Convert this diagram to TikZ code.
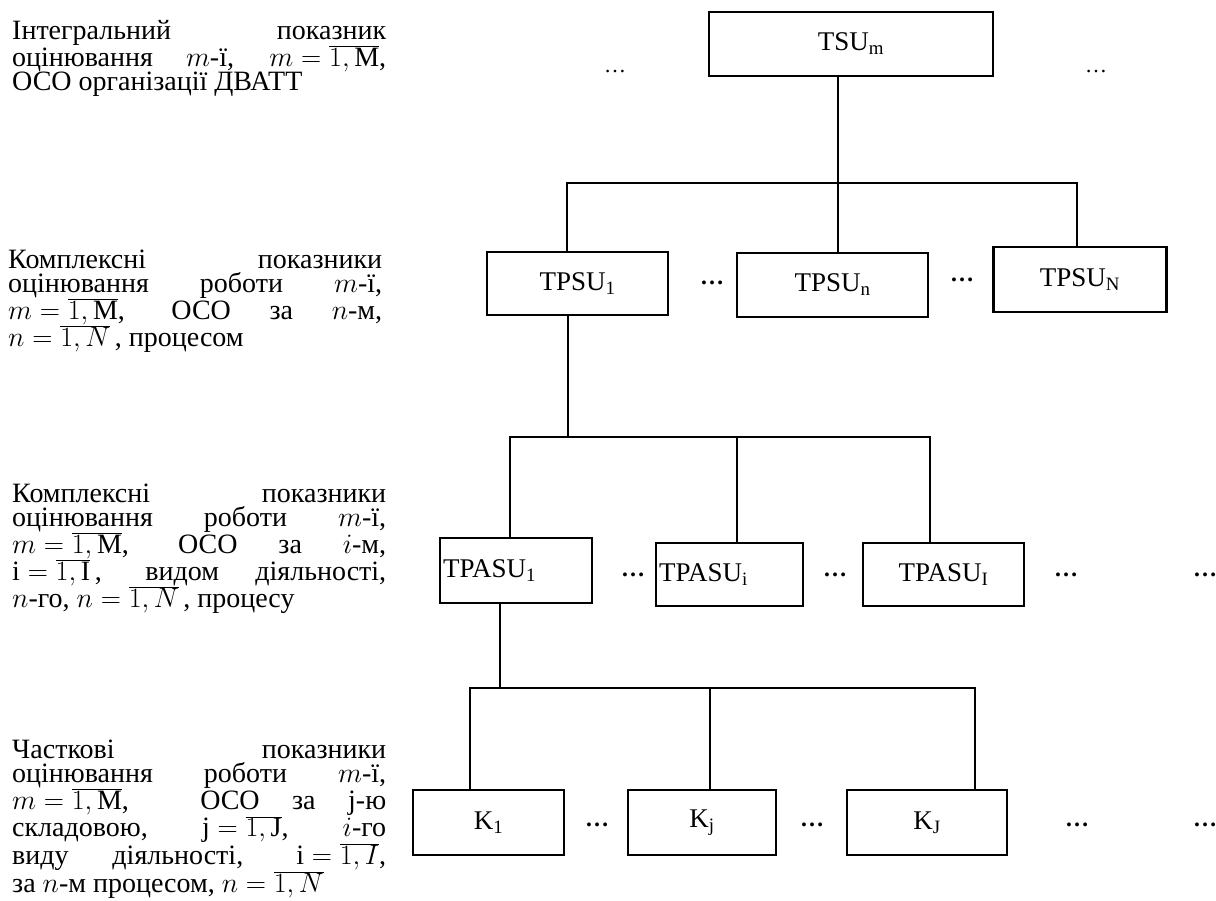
\documentclass[tikz,border=0pt]{standalone}
\usepackage{fix-cm}
\usepackage{fontspec}
\setmainfont{Liberation Serif}
\begin{document}
\begin{tikzpicture}[x=1pt,y=-1pt,
  lbl/.style={anchor=base west, inner sep=0pt, text width=374pt, align=justify,
    font=\fontsize{28}{24}\selectfont},
  box/.style={draw, line width=2.4pt, inner sep=1pt, font=\fontsize{27}{30}\selectfont},
  conn/.style={line width=2.2pt, line join=miter},
  bdots/.style={inner sep=0pt, font=\bfseries\fontsize{24}{24}\selectfont},
  tdots/.style={inner sep=0pt, font=\fontsize{22}{22}\selectfont}]
\useasboundingbox (0,0) rectangle (1216,900);

% left descriptions
\node[lbl] (d1) at (12,39) {Інтегральний показник\linebreak
оцінювання \ ${m}$-ї, \ ${m=\overline{1,\mathrm{M}}}$,\linebreak
ОСО організації ДВАТТ};
\node[lbl] (d2) at (8,268) {Комплексні показники\linebreak
оцінювання роботи ${m}$-ї,\linebreak
${m=\overline{1,\mathrm{M}}}$, ОСО за ${n}$-м,\linebreak
${n=\overline{1,N}}$\,, процесом};
\node[lbl] (d3) at (12,502) {Комплексні показники\linebreak
оцінювання роботи ${m}$-ї,\linebreak
${m=\overline{1,\mathrm{M}}}$, ОСО за ${i}$-м,\linebreak
${\mathrm{i}=\overline{1,\mathrm{I}}}$\,, видом діяльності,\linebreak
${n}$-го, ${n=\overline{1,N}}$\,, процесу};
\node[lbl] (d4) at (12,758) {Часткові показники\linebreak
оцінювання роботи ${m}$-ї,\linebreak
${m=\overline{1,\mathrm{M}}}$, \ ОСО за j-ю\linebreak
складовою, ${\mathrm{j}=\overline{1,\mathrm{J}}}$, ${i}$-го\linebreak
виду діяльності, ${\mathrm{i}=\overline{1,I}}$,\linebreak
за ${n}$-м процесом, ${n=\overline{1,N}}$};

% level 1
\node[box, minimum width=284pt, minimum height=64pt] (tsu) at (851,44) {TSU\textsubscript{m}};
\node[tdots] (td1) at (615,72) {…};
\node[tdots] (td2) at (1096,72) {…};

% level 2
\node[box, minimum width=181pt, minimum height=63pt] (tpsu1) at (577.5,283.5) {TPSU\textsubscript{1}};
\node[box, minimum width=191pt, minimum height=64pt] (tpsun) at (832.5,285) {TPSU\textsubscript{n}};
\node[box, minimum width=173pt, minimum height=65pt] (tpsuN) at (1080,279.5) {TPSU\textsubscript{N}};
\node[bdots] (dd1) at (712,283) {…};
\node[bdots] (dd2) at (962,280) {…};

% level 3
\node[box, minimum width=152pt, minimum height=65pt, text width=146pt, align=left] (tpasu1) at (516,570.5) {TPASU\textsubscript{1}};
\node[box, minimum width=147pt, minimum height=63pt, text width=141pt, align=left] (tpasui) at (729.5,574.5) {TPASU\textsubscript{i}};
\node[box, minimum width=161pt, minimum height=63pt] (tpasuI) at (943.5,574.5) {TPASU\textsubscript{I}};
\node[bdots] (ed1) at (633,575) {…};
\node[bdots] (ed2) at (835,575) {…};
\node[bdots] (ed3) at (1066,575) {…};
\node[bdots] (ed4) at (1205,575) {…};

% level 4
\node[box, minimum width=151pt, minimum height=65pt] (k1) at (488.5,822.5) {K\textsubscript{1}};
\node[box, minimum width=148pt, minimum height=65pt] (kj) at (702,822.5) {K\textsubscript{j}};
\node[box, minimum width=160pt, minimum height=65pt] (kJ) at (927,822.5) {K\textsubscript{J}};
\node[bdots] (fd1) at (597,825) {…};
\node[bdots] (fd2) at (812,825) {…};
\node[bdots] (fd3) at (1077,825) {…};
\node[bdots] (fd4) at (1205,825) {…};

% connectors level 1-2
\coordinate (b1) at (838,183);
\coordinate (b1l) at (567,183);
\coordinate (b1r) at (1077,183);
\draw[conn] (tsu.south -| b1) -- (b1);
\draw[conn] (b1l |- tpsu1.north) -- (b1l) -- (b1r) -- (b1r |- tpsuN.north);
\draw[conn] (b1) -- (b1 |- tpsun.north);

% connectors level 2-3
\coordinate (b2s) at (568,437);
\coordinate (b2l) at (510,437);
\coordinate (b2m) at (737,437);
\coordinate (b2r) at (930,437);
\draw[conn] (tpsu1.south -| b2s) -- (b2s);
\draw[conn] (b2l |- tpasu1.north) -- (b2l) -- (b2r) -- (b2r |- tpasuI.north);
\draw[conn] (b2m) -- (b2m |- tpasui.north);

% connectors level 3-4
\coordinate (b3s) at (500,688);
\coordinate (b3l) at (470,688);
\coordinate (b3m) at (710,688);
\coordinate (b3r) at (975,688);
\draw[conn] (tpasu1.south -| b3s) -- (b3s);
\draw[conn] (b3l |- k1.north) -- (b3l) -- (b3r) -- (b3r |- kJ.north);
\draw[conn] (b3m) -- (b3m |- kj.north);
\end{tikzpicture}
\end{document}
